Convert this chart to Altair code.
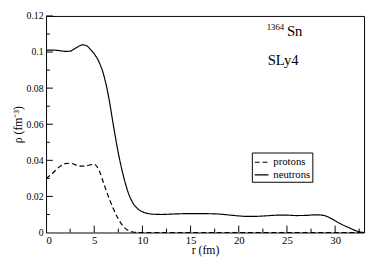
import altair as alt
import pandas as pd

# neutron density profile
r_n = [0, 0.5, 1, 1.5, 2, 2.5, 3, 3.5, 3.8, 4.2, 4.6, 5, 5.5, 6, 6.5, 7, 7.5, 8, 8.5, 9,
       9.5, 10, 10.5, 11, 12, 13, 14, 15, 16, 17, 18, 19, 20, 21, 22, 23, 24, 25, 26,
       27, 28, 28.5, 29, 29.5, 30, 30.5, 31, 31.5, 32, 32.5, 33]
rho_n = [0.1010, 0.1011, 0.1010, 0.1007, 0.1004, 0.1005, 0.1020, 0.1035, 0.1040, 0.1035,
         0.1015, 0.0990, 0.0945, 0.0870, 0.0750, 0.0590, 0.0440, 0.0320, 0.0225, 0.0165,
         0.0132, 0.0115, 0.0106, 0.0102, 0.0100, 0.0102, 0.0104, 0.0105, 0.0105, 0.0104,
         0.0102, 0.0097, 0.0092, 0.0089, 0.0090, 0.0093, 0.0096, 0.0096, 0.0094, 0.0095,
         0.0098, 0.0097, 0.0092, 0.0080, 0.0065, 0.0050, 0.0037, 0.0025, 0.0013, 0.0004, 0.0]

# proton density profile
r_p = [0, 0.5, 1, 1.5, 2, 2.5, 3, 3.5, 4, 4.5, 5, 5.5, 6, 6.5, 7, 7.5, 8, 8.5, 9, 9.5,
       10, 15, 20, 25, 30, 33]
rho_p = [0.0300, 0.0320, 0.0345, 0.0368, 0.0382, 0.0384, 0.0376, 0.0368, 0.0368, 0.0374,
         0.0378, 0.0345, 0.0270, 0.0195, 0.0130, 0.0075, 0.0035, 0.0012, 0.0003, 0.0,
         0.0, 0.0, 0.0, 0.0, 0.0, 0.0]

series_names = ["protons", "neutrons"]

x_major = [5, 10, 15, 20, 25, 30]
x_minor = [2.5, 7.5, 12.5, 17.5, 22.5, 27.5, 32.5]
y_major = [0.02, 0.04, 0.06, 0.08, 0.10, 0.12]
y_minor = [0.01, 0.03, 0.05, 0.07, 0.09, 0.11]
x_labels = [0, 5, 10, 15, 20, 25, 30]
y_labels = [0, 0.02, 0.04, 0.06, 0.08, 0.10, 0.12]

ann_text = ["1364", "Sn", "SLy4"]
ann_r = [22.9, 25.0, 23.0]
ann_rho = [0.1120, 0.1090, 0.0930]
ann_size = [9, 15, 15]

FONT = "Liberation Serif"

df = pd.concat([
    pd.DataFrame({"r": r_p, "rho": rho_p, "species": series_names[0]}),
    pd.DataFrame({"r": r_n, "rho": rho_n, "species": series_names[1]}),
])

xs = alt.Scale(domain=[0, 33], nice=False)
ys = alt.Scale(domain=[0, 0.12], nice=False)
xax = alt.Axis(title="r (fm)", values=x_labels, ticks=False, domain=False,
               grid=False, labelPadding=2, titlePadding=0, format=".2~f",
               labelFont=FONT, titleFont=FONT, labelFontSize=11, titleFontSize=12)
yax = alt.Axis(title="ρ (fm⁻³)", values=y_labels, ticks=False, domain=False,
               grid=False, labelPadding=3, titlePadding=2, format=".2~f",
               labelFont=FONT, titleFont=FONT, labelFontSize=10, titleFontSize=12)


def X(f="r"):
    return alt.X(f + ":Q", scale=xs, axis=xax, title="r (fm)")


def Y(f="rho"):
    return alt.Y(f + ":Q", scale=ys, axis=yax, title="ρ (fm⁻³)")


lines = alt.Chart(df).mark_line(color="black", strokeWidth=1.2, interpolate="monotone").encode(
    x=X(), y=Y(),
    strokeDash=alt.StrokeDash("species:N",
                              scale=alt.Scale(domain=series_names, range=[[5, 3], [1, 0]]),
                              legend=alt.Legend(title=None, orient="none", legendX=211, legendY=140,
                                                strokeColor="black", fillColor="white", padding=2,
                                                symbolType="stroke", symbolStrokeColor="black",
                                                symbolStrokeWidth=1.2, symbolSize=196,
                                                labelFont=FONT, labelFontSize=11,
                                                rowPadding=0, labelOffset=4)),
    order=alt.Order("r:Q"),
)

ymaj = alt.Chart(pd.DataFrame({"rho": y_major})).mark_rule(color="black").encode(
    y=Y(), x=alt.value(0), x2=alt.value(7))
ymin = alt.Chart(pd.DataFrame({"rho": y_minor})).mark_rule(color="black").encode(
    y=Y(), x=alt.value(0), x2=alt.value(4))
xmaj = alt.Chart(pd.DataFrame({"r": x_major})).mark_rule(color="black").encode(
    x=X(), y=alt.value(222), y2=alt.value(215))
xmin = alt.Chart(pd.DataFrame({"r": x_minor})).mark_rule(color="black").encode(
    x=X(), y=alt.value(222), y2=alt.value(218))

ann = alt.Chart(pd.DataFrame({"text": ann_text, "r": ann_r, "rho": ann_rho, "size": ann_size})).mark_text(
    align="left", baseline="alphabetic", font=FONT, color="black").encode(
    x=X(), y=Y(),
    text="text:N",
    size=alt.Size("size:Q", scale=None, legend=None),
)

chart = alt.layer(lines, ymaj, ymin, xmaj, xmin, ann).properties(
    width=326, height=222,
    autosize=alt.AutoSizeParams(type="none"),
    padding={"left": 39, "top": 5, "right": 2, "bottom": 24},
).configure(font=FONT).configure_view(stroke="black", strokeWidth=1).configure_axis(
    labelFont=FONT, labelColor="black",
    titleFont=FONT, titleFontWeight="normal", titleColor="black",
)

chart.save("out.html", embed_options={"renderer": "svg", "actions": False})
